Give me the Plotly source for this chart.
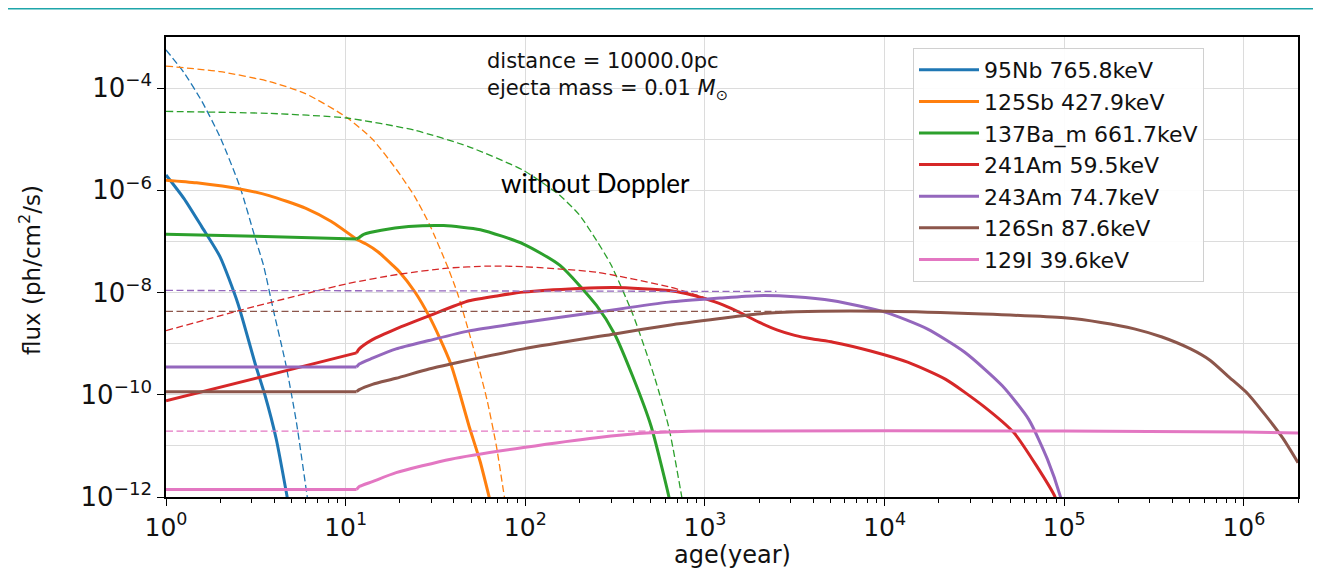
import plotly.graph_objects as go

# ---------------- data (age in years, flux in ph/cm^2/s) ----------------
labels = ["95Nb 765.8keV", "125Sb 427.9keV", "137Ba_m 661.7keV", "241Am 59.5keV",
          "243Am 74.7keV", "126Sn 87.6keV", "129I 39.6keV"]
colors = ["#1f77b4", "#ff7f0e", "#2ca02c", "#d62728", "#9467bd", "#8c564b", "#e377c2"]

# with Doppler (solid)
nb95_age = [1, 1.26, 1.58, 2.0, 2.51, 3.16, 3.55, 4.11, 4.73, 5.0]
nb95_flux = [2.0e-6, 6.9e-7, 1.95e-7, 5.0e-8, 6.2e-9, 3.7e-10, 1.0e-10, 1.35e-11, 9.8e-13, 3.2e-13]
sb125_age = [1, 1.48, 2.70, 3.75, 5.97, 8.32, 11.5, 13.0, 15.1, 18.3, 20.0, 24.2, 29.1, 33.5, 38.5,
             43.0, 48.6, 56.0, 63.0, 66.0]
sb125_flux = [1.58e-6, 1.40e-6, 1.03e-6, 7.9e-7, 4.5e-7, 2.45e-7, 1.1e-7, 8.9e-8, 6.3e-8, 3.4e-8,
              2.5e-8, 1.05e-8, 3.5e-9, 1.26e-9, 4.0e-10, 1.12e-10, 2.45e-11, 5.0e-12, 9.8e-13, 5e-13]
ba137_age = [1, 3.16, 11.5, 11.9, 12.6, 15.8, 22.4, 35.1, 56.2, 97.7, 156, 249, 314, 396, 501, 631, 661]
ba137_flux = [1.38e-7, 1.26e-7, 1.12e-7, 1.2e-7, 1.38e-7, 1.66e-7, 1.95e-7, 2.04e-7, 1.7e-7,
              8.9e-8, 3.4e-8, 5.6e-9, 1.55e-9, 2.3e-10, 2.45e-11, 9.8e-13, 4e-13]
am241_age = [1, 3.16, 11.5, 11.9, 14.1, 19.1, 29.1, 48.6, 70.8, 97.7, 197, 314, 631, 794, 1000,
             1259, 1585, 1995, 2512, 3162, 3981, 5164, 8356, 13550, 21880, 35480, 52480, 69980,
             89130, 93300]
am241_flux = [7.6e-11, 2.1e-10, 6.6e-10, 7.9e-10, 1.2e-9, 1.95e-9, 3.5e-9, 6.9e-9, 8.7e-9, 1.02e-8,
              1.2e-8, 1.26e-8, 1.1e-8, 9.5e-9, 7.6e-9, 5.75e-9, 3.98e-9, 2.63e-9, 1.86e-9, 1.45e-9,
              1.23e-9, 1.07e-9, 7.2e-10, 4.3e-10, 2.0e-10, 6.0e-11, 1.8e-11, 4.1e-12, 9.8e-13, 5e-13]
am243_age = [1, 11.5, 11.9, 14.1, 19.1, 29.1, 48.6, 97.7, 249, 631, 1213, 1950, 3162, 5164, 10160,
             17260, 27930, 45190, 63390, 80540, 95500, 100000]
am243_flux = [3.5e-10, 3.5e-10, 4.0e-10, 5.2e-10, 7.9e-10, 1.15e-9, 1.78e-9, 2.6e-9, 4.1e-9, 6.5e-9,
              7.8e-9, 8.7e-9, 8.3e-9, 6.9e-9, 4.1e-9, 1.95e-9, 6.8e-10, 1.5e-10, 3.3e-11, 5.5e-12,
              9.8e-13, 5e-13]
sn126_age = [1, 11.5, 11.9, 14.1, 19.1, 29.1, 38.5, 97.7, 314, 631, 1213, 1950, 3199, 10160, 35480,
             100000, 160000, 245500, 350000, 504700, 650000, 816600, 1050000, 1324000, 1650000,
             2000000]
sn126_flux = [1.15e-10, 1.15e-10, 1.26e-10, 1.6e-10, 2.1e-10, 3.2e-10, 4.0e-10, 7.9e-10, 1.55e-9,
              2.3e-9, 3.1e-9, 3.8e-9, 4.2e-9, 4.3e-9, 3.8e-9, 3.2e-9, 2.6e-9, 1.95e-9, 1.35e-9,
              7.9e-10, 4.7e-10, 2.3e-10, 1.05e-10, 3.9e-11, 1.4e-11, 4.7e-12]
i129_age = [1, 11.5, 11.9, 14.1, 19.1, 38.5, 97.7, 249, 501, 1000, 100000, 1000000, 2000000]
i129_flux = [1.4e-12, 1.4e-12, 1.6e-12, 2.0e-12, 3.0e-12, 5.5e-12, 9.3e-12, 1.45e-11, 1.8e-11,
             1.95e-11, 1.95e-11, 1.86e-11, 1.78e-11]

# without Doppler (dashed)
nb95_age_nd = [1, 1.26, 1.58, 2.0, 2.58, 3.16, 3.49, 3.98, 4.62, 5.32, 6.12, 6.3]
nb95_flux_nd = [5.6e-4, 2.0e-4, 5.6e-5, 1.1e-5, 1.17e-6, 1.07e-7, 3.4e-8, 4.2e-9, 4.3e-10,
                2.9e-11, 9.8e-13, 5e-13]
sb125_age_nd = [1, 2.0, 3.75, 5.97, 10.1, 14.1, 19.1, 24.2, 29.2, 36.8, 42.0, 48.6, 55.0, 61.4,
                69.0, 76.5, 80.0]
sb125_flux_nd = [2.7e-4, 2.1e-4, 1.35e-4, 7.8e-5, 2.7e-5, 1.0e-5, 2.6e-6, 7.6e-7, 2.2e-7, 3.3e-8,
                 9.5e-9, 1.66e-9, 3.5e-10, 7.6e-11, 1.0e-11, 1.0e-12, 4e-13]
ba137_age_nd = [1, 3.75, 10.1, 24.2, 48.6, 97.7, 156, 200, 249, 300, 396, 524, 631, 743, 776]
ba137_flux_nd = [3.5e-5, 3.2e-5, 2.6e-5, 1.5e-5, 7.1e-6, 2.45e-6, 7.9e-7, 3.3e-7, 1.05e-7, 3.5e-8,
                 3.8e-9, 2.2e-10, 2.2e-11, 1.0e-12, 4e-13]
am241_age_nd = [1, 3.16, 10.1, 20.1, 36.8, 63.1, 97.7, 249, 631, 1000, 1259]
am241_flux_nd = [1.8e-9, 5.4e-9, 1.48e-8, 2.3e-8, 3.0e-8, 3.3e-8, 3.2e-8, 2.5e-8, 1.29e-8, 7.9e-9, 5.75e-9]
am243_age_nd = [1, 2500]
am243_flux_nd = [1.1e-8, 1.05e-8]
sn126_age_nd = [1, 3162]
sn126_flux_nd = [4.3e-9, 4.3e-9]
i129_age_nd = [1, 800]
i129_flux_nd = [1.95e-11, 1.95e-11]

x_tick_vals = [1, 10, 100, 1e3, 1e4, 1e5, 1e6]
x_tick_text = ["10<sup>0</sup>", "10<sup>1</sup>", "10<sup>2</sup>", "10<sup>3</sup>",
               "10<sup>4</sup>", "10<sup>5</sup>", "10<sup>6</sup>"]
x_minor_vals = [m * d for d in [1, 10, 100, 1e3, 1e4, 1e5] for m in range(2, 10)] + [2e6]
y_tick_vals = [1e-12, 1e-10, 1e-8, 1e-6, 1e-4]
y_tick_text = ["10<sup>\u221212</sup>", "10<sup>\u221210</sup>", "10<sup>\u22128</sup>",
               "10<sup>\u22126</sup>", "10<sup>\u22124</sup>"]
y_minor_vals = [1e-11, 1e-9, 1e-7, 1e-5, 1e-3]

solid = [(nb95_age, nb95_flux), (sb125_age, sb125_flux), (ba137_age, ba137_flux),
         (am241_age, am241_flux), (am243_age, am243_flux), (sn126_age, sn126_flux),
         (i129_age, i129_flux)]
dashed = [(nb95_age_nd, nb95_flux_nd), (sb125_age_nd, sb125_flux_nd), (ba137_age_nd, ba137_flux_nd),
          (am241_age_nd, am241_flux_nd), (am243_age_nd, am243_flux_nd), (sn126_age_nd, sn126_flux_nd),
          (i129_age_nd, i129_flux_nd)]
jump_age = 11.5  # age where the Doppler-model curves show a step

# ---------------- figure ----------------
# The page body adds an 8 px margin; positions below are in window pixels.
OFF = 8
W, H = 1321 - OFF, 571 - OFF
X0, X1, Y0, Y1 = 166, 1298, 37, 497          # plot box in window pixels
L, R, T, B = X0 - OFF, W - (X1 - OFF), Y0 - OFF, H - (Y1 - OFF)
pw, ph = X1 - X0, Y1 - Y0


def px(X):
    return (X - X0) / pw


def py(Y):
    return (Y1 - Y) / ph


SMOOTH = 0.6
fig = go.Figure()
for lab, col, (a, f), (an, fn) in zip(labels, colors, solid, dashed):
    if jump_age in a:
        i = a.index(jump_age)
        first_shape = "linear" if f[0] == f[i] or lab.startswith("241") else "spline"
        fig.add_trace(go.Scatter(x=a[:i + 1], y=f[:i + 1], mode="lines", name=lab,
                                 legendgroup=lab,
                                 line=dict(color=col, width=3, shape=first_shape,
                                           smoothing=SMOOTH)))
        fig.add_trace(go.Scatter(x=a[i:], y=f[i:], mode="lines", name=lab, showlegend=False,
                                 legendgroup=lab,
                                 line=dict(color=col, width=3, shape="spline", smoothing=SMOOTH)))
    else:
        fig.add_trace(go.Scatter(x=a, y=f, mode="lines", name=lab, legendgroup=lab,
                                 line=dict(color=col, width=3, shape="spline", smoothing=SMOOTH)))
    fig.add_trace(go.Scatter(x=an, y=fn, mode="lines", showlegend=False, hoverinfo="skip",
                             legendgroup=lab,
                             line=dict(color=col, width=1.3, dash="7px,3.5px",
                                       shape="spline", smoothing=SMOOTH)))

axis_common = dict(type="log", showline=True, linecolor="black", linewidth=1.5, mirror=True,
                   ticks="outside", ticklen=7, tickwidth=1.3, tickcolor="black",
                   showgrid=True, gridcolor="#dcdcdc", gridwidth=1, zeroline=False,
                   tickmode="array")

fig.update_layout(
    width=W, height=H, autosize=False,
    margin=dict(l=L, r=R, t=T, b=B),
    paper_bgcolor="white", plot_bgcolor="white",
    font=dict(family="DejaVu Sans", size=24, color="#111"),
    xaxis=dict(range=[0, 6.301], tickvals=x_tick_vals, ticktext=x_tick_text,
               tickfont=dict(family="DejaVu Sans", size=25, color="#111"),
               minor=dict(tickmode="array", tickvals=x_minor_vals, ticks="outside", ticklen=4,
                          tickcolor="black", showgrid=False),
               **axis_common),
    yaxis=dict(range=[-12, -3], tickvals=y_tick_vals, ticktext=y_tick_text,
               tickfont=dict(family="DejaVu Sans", size=26, color="#111"),
               minor=dict(tickmode="array", tickvals=y_minor_vals, ticks="", showgrid=True,
                          gridcolor="#dcdcdc"),
               **axis_common),
    legend=dict(x=px(913), y=py(48), xanchor="left", yanchor="top",
                bgcolor="rgba(255,255,255,0.9)", bordercolor="#d0d0d0", borderwidth=1,
                font=dict(family="DejaVu Sans", size=22, color="#111"),
                itemwidth=60, tracegroupgap=0),
    showlegend=True,
    shapes=[
        dict(type="rect", xref="paper", yref="paper", x0=-0.2, x1=1.1, y0=py(9.5), y1=1.2,
             fillcolor="#1ea5aa", line_width=0),
    ],
    annotations=[
        dict(text="distance = 10000.0pc<br>ejecta mass = 0.01 <i>M</i><sub>\u2299</sub>",
             xref="paper", yref="paper", x=px(485), y=py(47), align="left",
             xanchor="left", yanchor="top", showarrow=False,
             font=dict(family="DejaVu Sans", size=21, color="#111")),
        dict(text="without Doppler", xref="paper", yref="paper", x=px(595), y=py(183),
             xanchor="center", yanchor="middle", showarrow=False,
             font=dict(family="Lato", size=26, color="#000")),
        dict(text="age(year)", xref="paper", yref="paper", x=0.5, y=py(555),
             xanchor="center", yanchor="middle", showarrow=False,
             font=dict(family="DejaVu Sans", size=24, color="#111")),
        dict(text="flux (ph/cm<sup>2</sup>/s)", xref="paper", yref="paper", x=px(30), y=py(270),
             xanchor="center", yanchor="middle", showarrow=False, textangle=-90,
             font=dict(family="DejaVu Sans", size=23, color="#111")),
    ],
)

fig.write_html("out.html")
